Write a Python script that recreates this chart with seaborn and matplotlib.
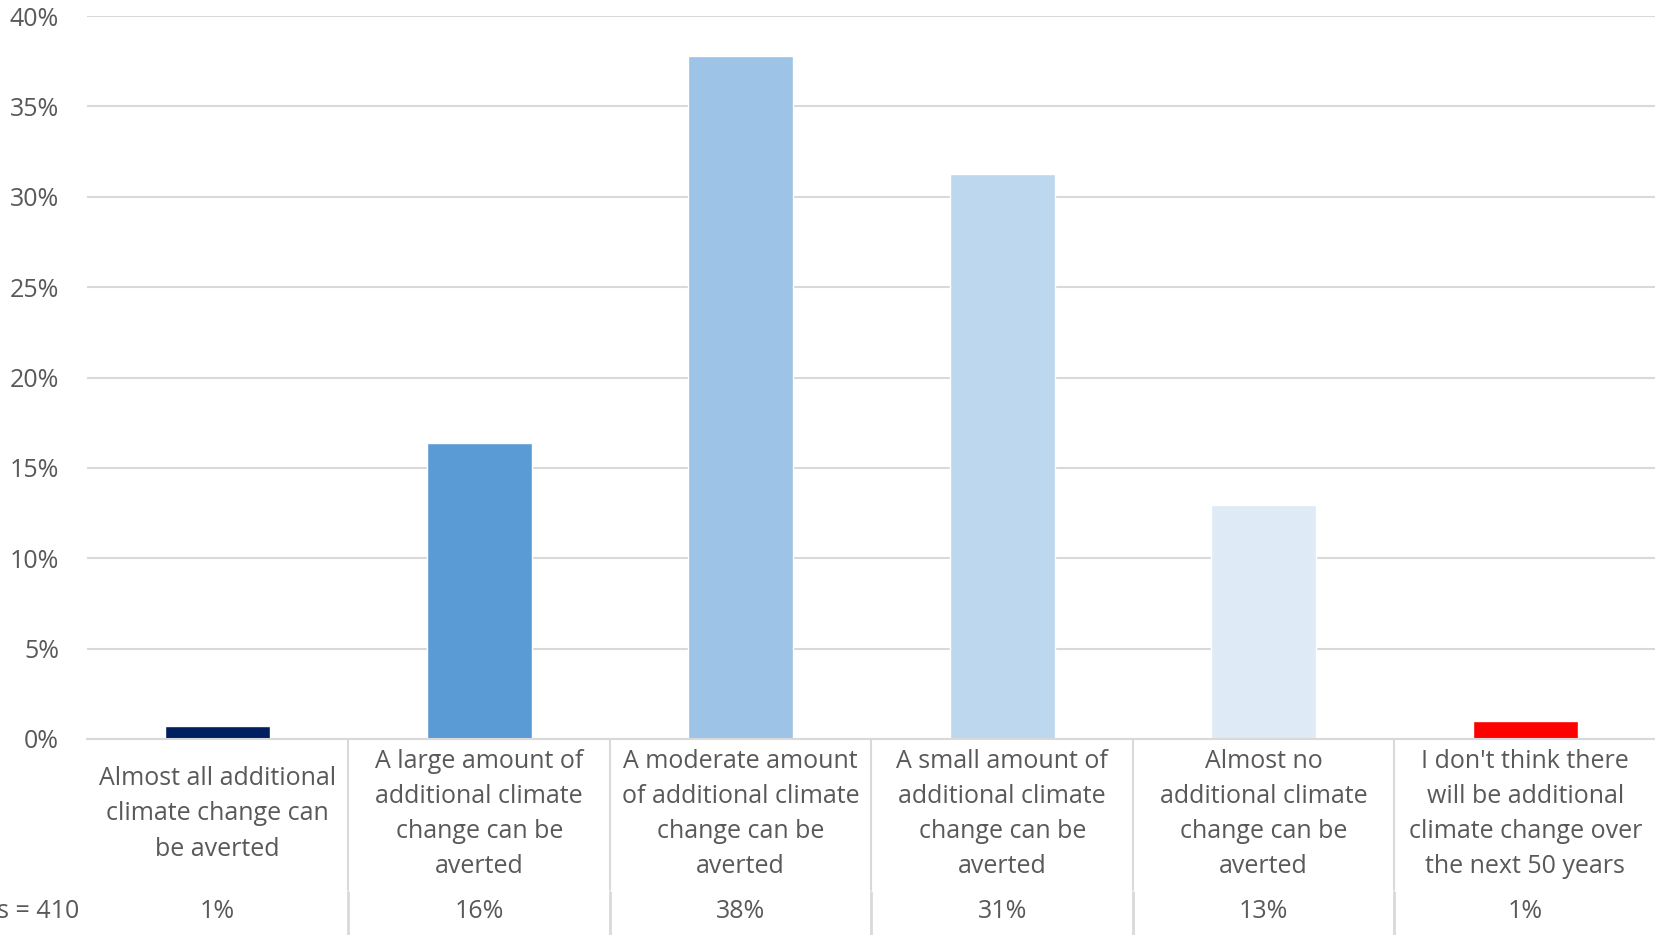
import matplotlib
matplotlib.use("Agg")
import matplotlib.pyplot as plt
import matplotlib.transforms as mtransforms
import seaborn as sns
import numpy as np
import pandas as pd

categories = [
    "Almost all additional\nclimate change can\nbe averted",
    "A large amount of\nadditional climate\nchange can be\naverted",
    "A moderate amount\nof additional climate\nchange can be\naverted",
    "A small amount of\nadditional climate\nchange can be\naverted",
    "Almost no\nadditional climate\nchange can be\naverted",
    "I don't think there\nwill be additional\nclimate change over\nthe next 50 years",
]
values = [0.74, 16.35, 37.8, 31.25, 12.95, 1.0]
value_labels = ["1%", "16%", "38%", "31%", "13%", "1%"]
colors = ["#002060", "#5B9BD5", "#9DC3E6", "#BDD7EE", "#DEEBF7", "#FF0000"]
n_label = "Respondents = 410"

sns.set_style("white")
plt.rcParams['font.family'] = ['Open Sans', 'DejaVu Sans']
text_color = "#595959"
grid_color = "#D9D9D9"
fs = 18

df = pd.DataFrame({"cat": categories, "val": values})

fig = plt.figure(figsize=(16.56, 9.35), dpi=100)
ax = fig.add_axes([87/1656, (935-739)/935, (1656-87)/1656, (739-16)/935])

sns.barplot(data=df, x="cat", y="val", hue="cat", palette=colors, legend=False,
            width=0.4, saturation=1, ax=ax)

ax.set_xlim(-0.5, 5.5)
ax.set_ylim(0, 40)
ax.set_yticks(np.arange(0, 41, 5))
ax.set_yticklabels([f"{v}%" for v in range(0, 41, 5)])
ax.yaxis.grid(True, color=grid_color, linewidth=1.5)
ax.set_axisbelow(True)
ax.tick_params(axis="y", length=0, pad=20, labelsize=fs, labelcolor=text_color)
ax.set_xticks([])
ax.set_xlabel("")
ax.set_ylabel("")
for s in ["top", "right", "left"]:
    ax.spines[s].set_visible(False)
ax.spines["bottom"].set_color(grid_color)
ax.spines["bottom"].set_linewidth(1.5)

# table-like labels under the axis
trans = mtransforms.blended_transform_factory(ax.transData, fig.transFigure)
for i, (lab, vl) in enumerate(zip(categories, value_labels)):
    ax.text(i, 1 - 814/935, lab, transform=trans, ha="center", va="center",
            fontsize=fs, color=text_color, linespacing=1.53, clip_on=False)
    ax.text(i, 1 - 912/935, vl, transform=trans, ha="center", va="center",
            fontsize=fs, color=text_color, clip_on=False)

# cell borders of the label table
for k in range(5):
    ax.plot([k + 0.5, k + 0.5], [1 - 740/935, 1 - 890/935], transform=trans,
            color=grid_color, linewidth=1.5, clip_on=False)
    ax.plot([k + 0.5, k + 0.5], [1 - 892/935, 0], transform=trans,
            color=grid_color, linewidth=2, clip_on=False)

fig.text(79/1656, 1 - 912/935, n_label, ha="right", va="center", fontsize=fs,
         color=text_color)

fig.savefig("out.png", dpi=100)
